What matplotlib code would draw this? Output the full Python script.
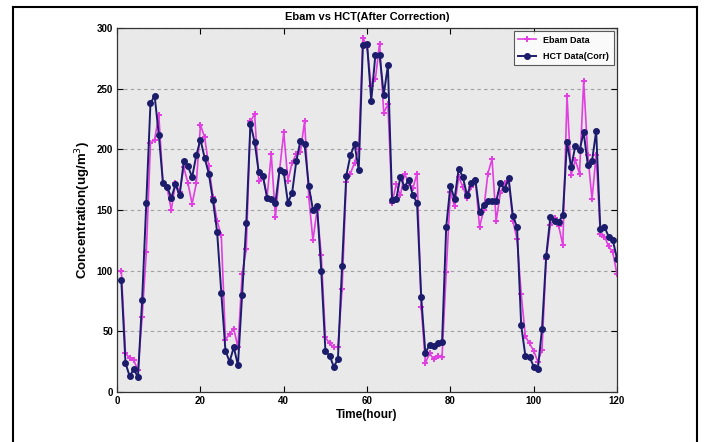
import matplotlib
matplotlib.use("Agg")
import matplotlib.pyplot as plt
from matplotlib.lines import Line2D
from matplotlib import font_manager

hours = list(range(1, 121))

hct = [92, 24, 13, 19, 12, 76, 156, 238, 244, 212,
       172, 169, 160, 171, 162, 190, 186, 177, 195, 208,
       193, 180, 158, 132, 82, 34, 25, 37, 22, 80,
       139, 221, 206, 181, 178, 160, 159, 156, 183, 181,
       156, 164, 190, 207, 204, 170, 150, 153, 100, 34,
       30, 21, 27, 104, 178, 195, 204, 183, 286, 287,
       240, 278, 278, 245, 269, 158, 159, 177, 169, 175,
       162, 156, 78, 32, 39, 38, 40, 41, 136, 170,
       159, 184, 177, 162, 172, 175, 148, 154, 157, 157,
       157, 172, 167, 176, 145, 136, 55, 30, 29, 21,
       19, 52, 112, 144, 141, 140, 146, 206, 185, 203,
       199, 214, 187, 190, 215, 134, 136, 128, 125, 110]

ebam = [100, 32, 28, 26, 18, 62, 115, 205, 208, 228,
        172, 168, 150, 172, 165, 185, 172, 155, 172, 220,
        210, 186, 161, 141, 129, 43, 48, 52, 37, 97,
        118, 223, 229, 174, 177, 161, 196, 144, 183, 214,
        174, 189, 196, 198, 223, 161, 125, 150, 113, 45,
        40, 37, 37, 85, 173, 180, 189, 200, 292, 284,
        252, 258, 287, 230, 237, 156, 171, 162, 180, 172,
        168, 180, 70, 24, 32, 27, 30, 29, 99, 165,
        153, 177, 169, 160, 169, 175, 136, 150, 180, 192,
        141, 164, 172, 174, 141, 126, 81, 46, 40, 34,
        25, 35, 110, 138, 143, 137, 121, 244, 179, 191,
        180, 256, 195, 159, 195, 130, 128, 120, 115, 97]

xticks = [0, 20, 40, 60, 80, 100, 120]
yticks = [0, 50, 100, 150, 200, 250, 300]

avail = {f.name for f in font_manager.fontManager.ttflist}
narrow = 'Liberation Sans Narrow' if 'Liberation Sans Narrow' in avail else 'Liberation Sans'

fig = plt.figure(figsize=(7.1, 4.42), dpi=100)
fig.patch.set_facecolor('white')
ax = fig.add_axes([0.165, 0.113, 0.704, 0.824])
ax.set_facecolor('#e9e9e9')

pink = '#e040e0'
navy = '#1c1c6c'
ax.plot(hours, ebam, color=pink, lw=1.2, marker='+', ms=4.5, mew=1.4, label='Ebam Data')
ax.plot(hours, hct, color=navy, lw=1.4, marker='o', ms=4, mfc=navy, mec=navy, label='HCT Data(Corr)')

ax.set_xlim(0, 120)
ax.set_ylim(0, 300)
ax.set_xticks(xticks)
ax.set_yticks(yticks)
ax.tick_params(direction='in', top=True, right=True, length=4, width=0.8,
               labelsize=7, pad=3)
for lab in ax.get_xticklabels() + ax.get_yticklabels():
    lab.set_fontfamily(narrow)
    lab.set_fontweight('bold')
ax.yaxis.grid(True, linestyle=(0, (3, 3)), color='#a0a0a0', lw=0.8)
ax.set_axisbelow(True)
for s in ax.spines.values():
    s.set_linewidth(0.9)
    s.set_color('#333333')

ax.set_title('Ebam vs HCT(After Correction)', fontsize=8, fontweight='bold',
             family=narrow, pad=6)
ax.set_xlabel('Time(hour)', fontsize=8.5, fontweight='bold', family=narrow, labelpad=2)
ax.set_ylabel('Concentration(ug/m$^3$)', fontsize=9.5, fontweight='bold',
              family='Liberation Sans', labelpad=3)

leg = ax.legend(loc='upper right', frameon=True, fancybox=False,
                edgecolor='#333333', handlelength=2.0, borderaxespad=0.35,
                labelspacing=0.8, borderpad=0.5,
                prop={'family': narrow, 'weight': 'bold', 'size': 6.5})
leg.get_frame().set_facecolor('white')
leg.get_frame().set_linewidth(0.8)

# outer frame of the picture
for xs, ys in [((13/710, 13/710), (0, 1 - 7/442)),
               ((697/710, 697/710), (0, 1 - 7/442)),
               ((13/710, 697/710), (1 - 7/442, 1 - 7/442))]:
    fig.add_artist(Line2D(xs, ys, color='black', lw=1.5, transform=fig.transFigure))

fig.savefig('out.png', dpi=100)
